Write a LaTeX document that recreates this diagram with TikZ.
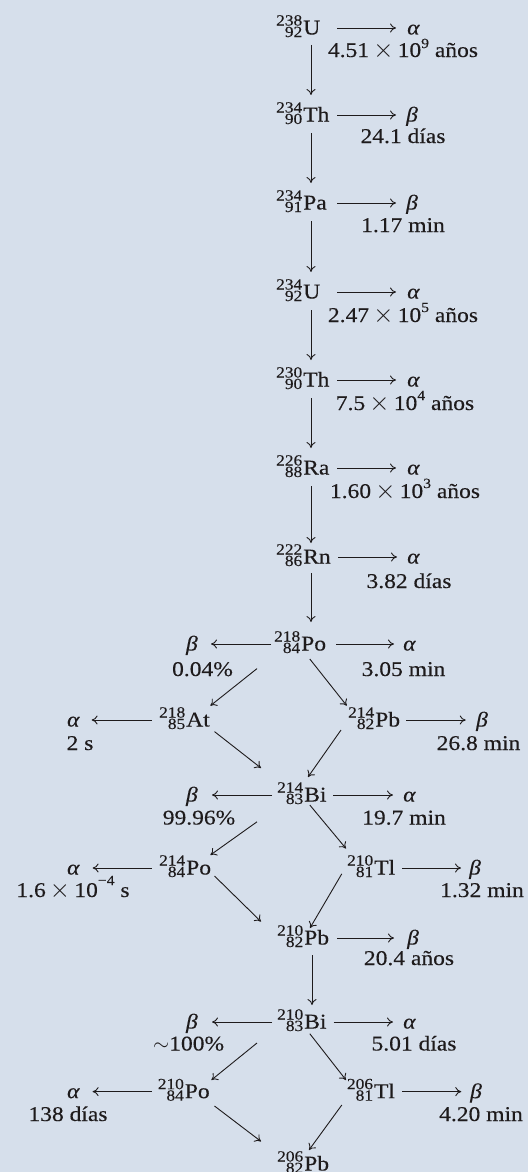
\documentclass[tikz,border=0pt]{standalone}
\usepackage{fontspec}
\setmainfont{Liberation Serif}[FakeStretch=1.12, FakeBold=0.25]
\usetikzlibrary{arrows.meta}
\definecolor{bgblue}{RGB}{214,223,235}
\definecolor{inkc}{RGB}{30,27,28}
\newcommand{\nuc}[3]{%
  \setbox0=\hbox{\fontsize{15.5}{16}\selectfont #1}%
  \setbox2=\hbox{\fontsize{15.5}{16}\selectfont #2}%
  \ifdim\wd0>\wd2 \dimen0=\wd0 \else \dimen0=\wd2 \fi
  \hbox to \dimen0{\hfil\raise9pt\copy0}\llap{\lower2.5pt\copy2}\kern1pt#3}
\newcommand{\sexp}[2][10pt]{\raisebox{#1}{\fontsize{14}{15}\selectfont #2}}
\newcommand{\tms}{\hspace{0.2em}\scalebox{1.25}{$\times$}\hspace{0.2em}}
\newcommand{\ptalpha}{\textit{α}}
\newcommand{\ptbeta}{\textit{β}}
\begin{document}
\begin{tikzpicture}[x=1pt,y=-1pt,
  every node/.style={font=\fontsize{21}{24}\selectfont, text=inkc},
  elem/.style={inner sep=0pt, text height=17pt, text depth=4pt, text width=#1, align=left, anchor=west},
  pr/.style={inner sep=0pt, text height=17pt, text depth=4pt, anchor=west},
  pl/.style={inner sep=0pt, text height=17pt, text depth=4pt, anchor=east},
  lab/.style={inner sep=0pt, anchor=base},
  arr/.style={draw=inkc, line width=0.9pt, -{Computer Modern Rightarrow[length=6pt,width=9pt]}}]
\fill[bgblue] (0,0) rectangle (528,1172);
\useasboundingbox (0,0) rectangle (528,1172);

% ---------- upper chain ----------
\node[elem=55pt] (U238) at (276,28) {\nuc{238}{92}{U}};
\node[pr] (U238a) at (407,28) {\ptalpha};
\node[lab] (U238t) at (403,57) {4.51\tms10\sexp[9pt]{9} años};
\draw[arr, shorten <=6pt, shorten >=11pt] (U238) -- (U238a);

\node[elem=55pt] (Th234) at (276,115) {\nuc{234}{90}{Th}};
\node[pr] (Th234b) at (406,115) {\ptbeta};
\node[lab] (Th234t) at (403,143) {24.1 días};
\draw[arr, shorten <=6pt, shorten >=10pt] (Th234) -- (Th234b);

\node[elem=55pt] (Pa234) at (276,203) {\nuc{234}{91}{Pa}};
\node[pr] (Pa234b) at (406,203) {\ptbeta};
\node[lab] (Pa234t) at (403,232) {1.17 min};
\draw[arr, shorten <=6pt, shorten >=10pt] (Pa234) -- (Pa234b);

\node[elem=55pt] (U234) at (276,292) {\nuc{234}{92}{U}};
\node[pr] (U234a) at (407,292) {\ptalpha};
\node[lab] (U234t) at (403,322) {2.47\tms10\sexp{5} años};
\draw[arr, shorten <=6pt, shorten >=11pt] (U234) -- (U234a);

\node[elem=55pt] (Th230) at (276,380) {\nuc{230}{90}{Th}};
\node[pr] (Th230a) at (407,380) {\ptalpha};
\node[lab] (Th230t) at (405,410) {7.5\tms10\sexp{4} años};
\draw[arr, shorten <=6pt, shorten >=11pt] (Th230) -- (Th230a);

\node[elem=55pt] (Ra226) at (276,468) {\nuc{226}{88}{Ra}};
\node[pr] (Ra226a) at (407,468) {\ptalpha};
\node[lab] (Ra226t) at (405,498) {1.60\tms10\sexp{3} años};
\draw[arr, shorten <=6pt, shorten >=11pt] (Ra226) -- (Ra226a);

\node[elem=55pt] (Rn222) at (276,557) {\nuc{222}{86}{Rn}};
\node[pr] (Rn222a) at (407,557) {\ptalpha};
\node[lab] (Rn222t) at (409,588) {3.82 días};
\draw[arr, shorten <=7pt, shorten >=10pt] (Rn222) -- (Rn222a);

\draw[arr] ([shift={(35,17)}]U238.west) -- ([shift={(35,-20)}]Th234.west);
\draw[arr] ([shift={(35,18)}]Th234.west) -- ([shift={(35,-20)}]Pa234.west);
\draw[arr] ([shift={(35,18)}]Pa234.west) -- ([shift={(35,-20)}]U234.west);
\draw[arr] ([shift={(35,18)}]U234.west) -- ([shift={(35,-20)}]Th230.west);
\draw[arr] ([shift={(35,18)}]Th230.west) -- ([shift={(35,-20)}]Ra226.west);
\draw[arr] ([shift={(35,18)}]Ra226.west) -- ([shift={(35,-14)}]Rn222.west);

% ---------- Po-218 ----------
\node[elem=54pt] (Po218) at (274,644) {\nuc{218}{84}{Po}};
\node[pl] (Po218b) at (198,644) {\ptbeta};
\node[pr] (Po218a) at (403,644) {\ptalpha};
\node[lab] (Po218tl) at (202.5,676) {0.04\%};
\node[lab] (Po218tr) at (403.5,676) {3.05 min};
\draw[arr, shorten <=8pt, shorten >=9pt] (Po218) -- (Po218a);
\draw[arr, shorten <=3pt, shorten >=13pt] (Po218) -- (Po218b);
\draw[arr] ([shift={(35,16)}]Rn222.west) -- ([shift={(37,-22)}]Po218.west);

% ---------- At-218 / Pb-214 ----------
\node[elem=50pt] (At218) at (159,720) {\nuc{218}{85}{At}};
\node[pl] (At218a) at (80,720) {\ptalpha};
\node[lab] (At218t) at (80,750) {2 s};
\draw[arr, shorten <=7.5pt, shorten >=11.6pt] (At218) -- (At218a);

\node[elem=51pt] (Pb214) at (348,720) {\nuc{214}{82}{Pb}};
\node[pr] (Pb214b) at (476,720) {\ptbeta};
\node[lab] (Pb214t) at (478.5,750) {26.8 min};
\draw[arr, shorten <=6.7pt, shorten >=10.3pt] (Pb214) -- (Pb214b);

\draw[arr] ([shift={(-17,24.6)}]Po218.west) -- ([shift={(51.4,-14.3)}]At218.west);
\draw[arr] ([shift={(35.8,15)}]Po218.west) -- ([shift={(-1.2,-14.3)}]Pb214.west);

% ---------- Bi-214 ----------
\node[elem=49pt] (Bi214) at (277,795) {\nuc{214}{83}{Bi}};
\node[pl] (Bi214b) at (198,795) {\ptbeta};
\node[pr] (Bi214a) at (403,795) {\ptalpha};
\node[lab] (Bi214tl) at (199,824.5) {99.96\%};
\node[lab] (Bi214tr) at (404,824.5) {19.7 min};
\draw[arr, shorten <=7pt, shorten >=10pt] (Bi214) -- (Bi214a);
\draw[arr, shorten <=5pt, shorten >=14pt] (Bi214) -- (Bi214b);

\draw[arr] ([shift={(55.5,11.6)}]At218.west) -- ([shift={(-16,-27)}]Bi214.west);
\draw[arr] ([shift={(-7,10)}]Pb214.west) -- ([shift={(31,-18)}]Bi214.west);

% ---------- Po-214 / Tl-210 ----------
\node[elem=52pt] (Po214) at (159,868) {\nuc{214}{84}{Po}};
\node[pl] (Po214a) at (80,868) {\ptalpha};
\node[lab] (Po214t) at (73,897) {1.6\tms10\sexp[12pt]{−4} s};
\draw[arr, shorten <=7.5pt, shorten >=12.6pt] (Po214) -- (Po214a);

\node[elem=47pt] (Tl210) at (347,868) {\nuc{210}{81}{Tl}};
\node[pr] (Tl210b) at (469,868) {\ptbeta};
\node[lab] (Tl210t) at (482,897) {1.32 min};
\draw[arr, shorten <=7.7pt, shorten >=8pt] (Tl210) -- (Tl210b);

\draw[arr] ([shift={(-20,26.8)}]Bi214.west) -- ([shift={(51.4,-13)}]Po214.west);
\draw[arr] ([shift={(32.8,10)}]Bi214.west) -- ([shift={(-1,-19.5)}]Tl210.west);

% ---------- Pb-210 ----------
\node[elem=52pt] (Pb210) at (277,938) {\nuc{210}{82}{Pb}};
\node[pr] (Pb210b) at (407,938) {\ptbeta};
\node[lab] (Pb210t) at (409,965) {20.4 años};
\draw[arr, shorten <=7.7pt, shorten >=13pt] (Pb210) -- (Pb210b);

\draw[arr] ([shift={(55.5,8)}]Po214.west) -- ([shift={(-16,-16.4)}]Pb210.west);
\draw[arr] ([shift={(-5.2,5.8)}]Tl210.west) -- ([shift={(33,-10)}]Pb210.west);

% ---------- Bi-210 ----------
\node[elem=49pt] (Bi210) at (277,1022) {\nuc{210}{83}{Bi}};
\node[pl] (Bi210b) at (198,1022) {\ptbeta};
\node[pr] (Bi210a) at (403,1022) {\ptalpha};
\node[lab] (Bi210tl) at (188.6,1050.5) {$\sim$100\%};
\node[lab] (Bi210tr) at (414,1050.5) {5.01 días};
\draw[arr, shorten <=7.3pt, shorten >=10pt] (Bi210) -- (Bi210a);
\draw[arr, shorten <=5pt, shorten >=14pt] (Bi210) -- (Bi210b);
\draw[arr] ([shift={(35,17)}]Pb210.west) -- ([shift={(35,-17)}]Bi210.west);

% ---------- Po-210 / Tl-206 ----------
\node[elem=53pt] (Po210) at (157.6,1091.6) {\nuc{210}{84}{Po}};
\node[pl] (Po210a) at (80,1091.6) {\ptalpha};
\node[lab] (Po210t) at (68,1121) {138 días};
\draw[arr, shorten <=6pt, shorten >=12.6pt] (Po210) -- (Po210a);

\node[elem=49pt] (Tl206) at (346.8,1091.6) {\nuc{206}{81}{Tl}};
\node[pr] (Tl206b) at (470,1091.6) {\ptbeta};
\node[lab] (Tl206t) at (481,1121) {4.20 min};
\draw[arr, shorten <=6pt, shorten >=8.7pt] (Tl206) -- (Tl206b);

\draw[arr] ([shift={(-20,21)}]Bi210.west) -- ([shift={(53.8,-11.6)}]Po210.west);
\draw[arr] ([shift={(32.8,11.7)}]Bi210.west) -- ([shift={(-0.8,-11.6)}]Tl206.west);

% ---------- Pb-206 ----------
\node[elem=53pt] (Pb206) at (277,1164) {\nuc{206}{82}{Pb}};
\draw[arr] ([shift={(56.9,14.4)}]Po210.west) -- ([shift={(-16,-22.6)}]Pb206.west);
\draw[arr] ([shift={(-5,13.4)}]Tl206.west) -- ([shift={(32,-14)}]Pb206.west);
\end{tikzpicture}
\end{document}
